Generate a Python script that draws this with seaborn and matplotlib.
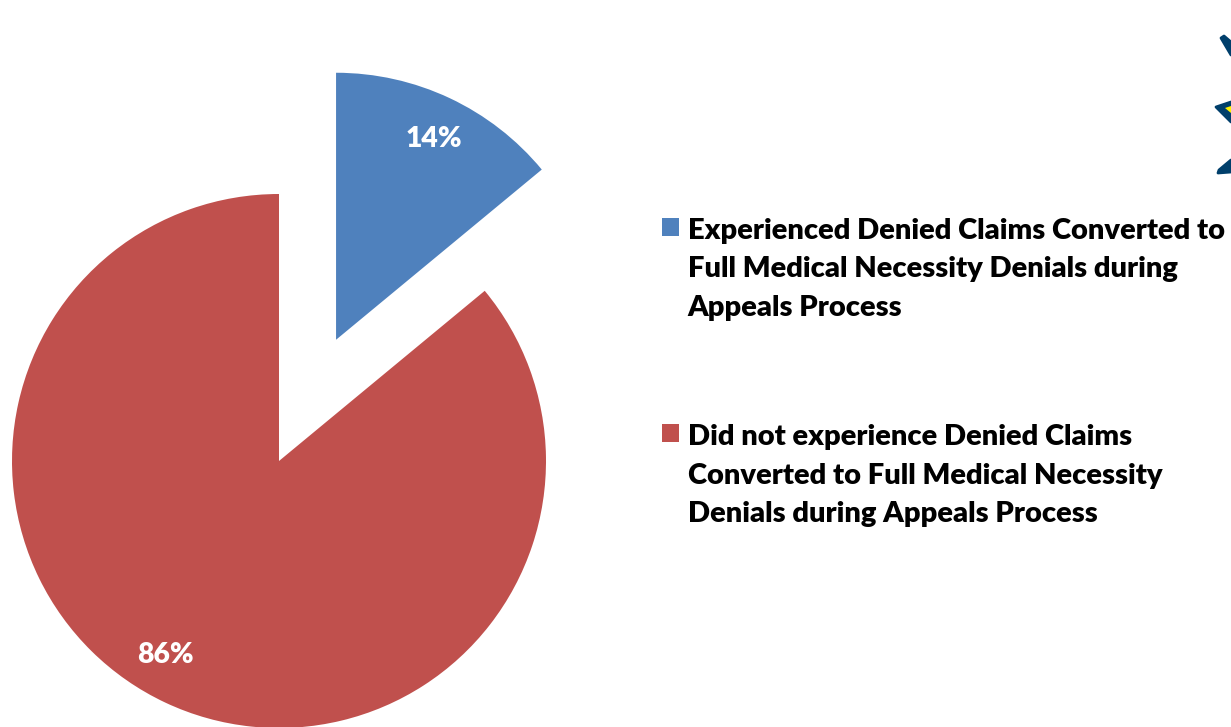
import matplotlib
matplotlib.use("Agg")
import matplotlib.pyplot as plt
from matplotlib.patches import Polygon
import seaborn as sns

categories = [
    "Experienced Denied Claims Converted to\nFull Medical Necessity Denials during\nAppeals Process",
    "Did not experience Denied Claims\nConverted to Full Medical Necessity\nDenials during Appeals Process",
]
shares = [14, 86]
slice_colors = ["#4F81BD", "#C0504D"]
explode = [134, 0]

sns.set_theme(style="white")
plt.rcParams["font.family"] = ["Lato", "DejaVu Sans"]

W, H = 1231, 727
fig = plt.figure(figsize=(W / 100, H / 100), dpi=100)
ax = fig.add_axes([0, 0, 1, 1])

wedges, _, pct = ax.pie(
    shares,
    colors=sns.color_palette(slice_colors),
    explode=explode,
    center=(279, H - 461),
    radius=267,
    startangle=90,
    counterclock=False,
    autopct="%d%%",
    pctdistance=0.84,
    wedgeprops=dict(linewidth=0),
    textprops=dict(color="white", fontsize=20.4, fontweight="heavy"),
)
pct[0].set_position((434, H - 139))
pct[1].set_position((165, H - 655))

ax.set_xlim(0, W)
ax.set_ylim(0, H)
ax.set_aspect("equal")
ax.axis("off")

leg = ax.legend(
    wedges,
    categories,
    loc="upper left",
    bbox_to_anchor=(662 / W, 1 - 217.5 / H),
    frameon=False,
    prop=dict(family="Lato", weight="heavy", size=21),
    labelcolor="black",
    handlelength=0.58,
    handleheight=0.58,
    handletextpad=0.3,
    labelspacing=3.55,
    borderpad=0,
    borderaxespad=0,
)
for label in leg.get_texts():
    label.set_linespacing(1.6)
# Keep each swatch level with the first line of its entry
for row in leg._legend_handle_box.get_children()[0].get_children():
    row.align = "top"

# Logo star cut off at the right edge
navy = "#003F6B"
for arm in [
    [(1221, H - 38), (1224, H - 36), (1231, H - 42), (1231, H - 55)],
    [(1216, H - 107), (1231, H - 102), (1231, H - 122)],
    [(1218, H - 173), (1231, H - 172), (1231, H - 160), (1219, H - 170)],
]:
    ax.add_patch(Polygon(arm, closed=True, facecolor=navy, edgecolor=navy,
                         linewidth=2, joinstyle="round"))
ax.add_patch(Polygon([(1225, H - 108), (1231, H - 106), (1231, H - 113)],
                     closed=True, facecolor="#FFF200", edgecolor="none"))

fig.savefig("out.png", dpi=100, facecolor="white")
